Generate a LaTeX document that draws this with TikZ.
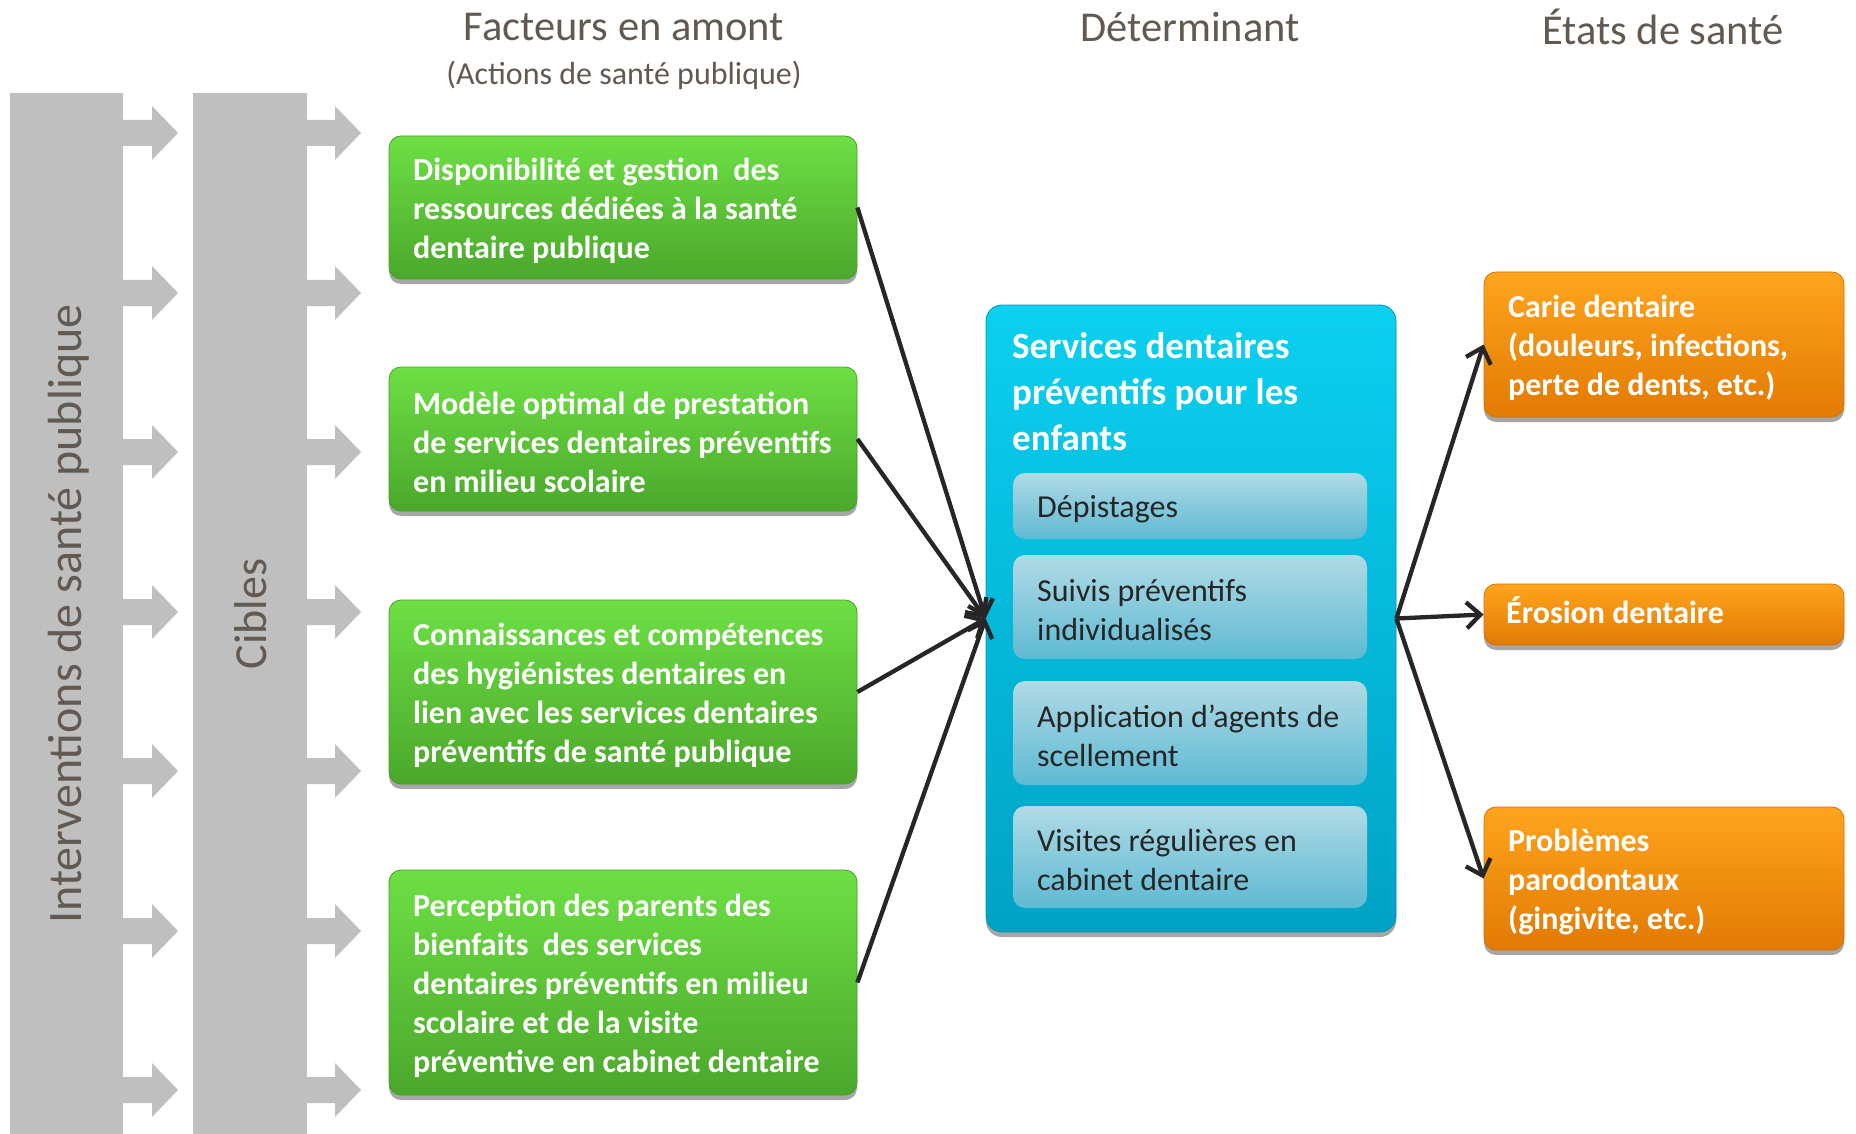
\documentclass[tikz,border=0pt]{standalone}
\usepackage{fontspec}
\setmainfont{Carlito}
\usetikzlibrary{arrows.meta,shadows}
\definecolor{barg}{HTML}{BFBFBF}
\definecolor{hdr}{HTML}{625A52}
\definecolor{gtop}{HTML}{6DE044}
\definecolor{gbot}{HTML}{4BA72B}
\definecolor{gline}{HTML}{46A028}
\definecolor{btop}{HTML}{0BD0F0}
\definecolor{bbot}{HTML}{00A2C4}
\definecolor{bline}{HTML}{0096B8}
\definecolor{stop}{HTML}{B0DAE5}
\definecolor{sbot}{HTML}{5EBAD3}
\definecolor{otop}{HTML}{FFA41C}
\definecolor{obot}{HTML}{E27A04}
\definecolor{oline}{HTML}{D97300}
\definecolor{conn}{HTML}{262626}
\definecolor{subtxt}{HTML}{262626}
\begin{document}
\begin{tikzpicture}[x=1pt,y=-1pt,
  boxshadow/.style={drop shadow={shadow xshift=0pt,shadow yshift=-5pt,opacity=0.35,fill=black}},
  gbox/.style={rectangle,rounded corners=12pt,top color=gtop,bottom color=gbot,draw=gline,line width=0.8pt,minimum width=468pt,boxshadow},
  bbox/.style={rectangle,rounded corners=16pt,top color=btop,bottom color=bbot,draw=bline,line width=0.8pt,boxshadow},
  sbox/.style={rectangle,rounded corners=12pt,top color=stop,bottom color=sbot,draw=none,minimum width=354pt},
  obox/.style={rectangle,rounded corners=12pt,top color=otop,bottom color=obot,draw=oline,line width=0.8pt,minimum width=360pt,boxshadow},
  wtxt/.style={inner sep=0pt,anchor=west,align=left,yshift=-3pt,text=white,font=\fontsize{32}{39}\selectfont\bfseries},
  ttxt/.style={inner sep=0pt,anchor=west,align=left,yshift=-1pt,text=white,font=\fontsize{37}{46}\selectfont\bfseries},
  stxt/.style={inner sep=0pt,anchor=west,align=left,yshift=-3pt,text=subtxt,font=\fontsize{32}{39}\selectfont},
  hdrtxt/.style={inner sep=0pt,text=hdr,font=\fontsize{42.5}{50}\selectfont},
  subhdr/.style={inner sep=0pt,text=hdr,font=\fontsize{32}{38}\selectfont},
  rottxt/.style={inner sep=0pt,text=hdr,rotate=90},
  link/.style={draw=conn,line width=4.3pt,-{Straight Barb[length=14pt,width=26pt,line width=4.3pt]}}
]
\useasboundingbox (0,0) rectangle (1856,1134);
\fill[white] (0,0) rectangle (1856,1134);

% gray bars and arrows
\fill[barg] (10,93.5) rectangle (123,1134);
\fill[barg] (193,93.5) rectangle (307,1134);
\foreach \y in {133,293,452,612,771,931,1090}{
  \fill[barg] (123,\y-13) -- (152,\y-13) -- (152,\y-27) -- (178,\y) -- (152,\y+27) -- (152,\y+13) -- (123,\y+13) -- cycle;
  \fill[barg] (307,\y-13) -- (335,\y-13) -- (335,\y-27) -- (361,\y) -- (335,\y+27) -- (335,\y+13) -- (307,\y+13) -- cycle;
}
\node[rottxt,font=\fontsize{48}{56}\selectfont] (interv) at (69,614) {Interventions de santé publique};
\node[rottxt,font=\fontsize{46}{55}\selectfont] (cibles) at (251,614) {Cibles};

% headers
\node[hdrtxt] (h1) at (624,27) {Facteurs en amont};
\node[subhdr] (h1b) at (624,75) {(Actions de santé publique)};
\node[hdrtxt] (h2) at (1190,27) {Déterminant};
\node[hdrtxt] (h3) at (1663,27) {États de santé};

% green boxes
\node[gbox,minimum height=143pt] (g1) at (623,207.5) {};
\node[wtxt] (g1t) at (413,207.5) {Disponibilité et gestion\ \ des\\ressources dédiées à la santé\\dentaire publique};
\node[gbox,minimum height=144pt] (g2) at (623,439) {};
\node[wtxt] (g2t) at (413,439) {Modèle optimal de prestation\\de services dentaires préventifs\\en milieu scolaire};
\node[gbox,minimum height=184pt] (g3) at (623,692) {};
\node[wtxt] (g3t) at (413,692) {Connaissances et compétences\\des hygiénistes dentaires en\\lien avec les services dentaires\\préventifs de santé publique};
\node[gbox,minimum height=225pt] (g4) at (623,982.5) {};
\node[wtxt] (g4t) at (413,982.5) {Perception des parents des\\bienfaits\ \ des services\\dentaires préventifs en milieu\\scolaire et de la visite\\préventive en cabinet dentaire};

% blue box
\node[bbox,minimum width=410pt,minimum height=627pt] (blue) at (1191,618.5) {};
\node[ttxt] (bt) at (1012,391) {Services dentaires\\préventifs pour les\\enfants};
\node[sbox,minimum height=66pt] (s1) at (1190,506) {};
\node[stxt] (s1t) at (1037,506) {Dépistages};
\node[sbox,minimum height=104pt] (s2) at (1190,607) {};
\node[stxt] (s2t) at (1037,607) {Suivis préventifs\\individualisés};
\node[sbox,minimum height=104pt] (s3) at (1190,733) {};
\node[stxt] (s3t) at (1037,733) {Application d’agents de\\scellement};
\node[sbox,minimum height=102pt] (s4) at (1190,857) {};
\node[stxt] (s4t) at (1037,857) {Visites régulières en\\cabinet dentaire};

% orange boxes
\node[obox,minimum height=145pt] (o1) at (1664,344.5) {};
\node[wtxt] (o1t) at (1508,344.5) {Carie dentaire\\(douleurs, infections,\\perte de dents, etc.)};
\node[obox,minimum height=61pt] (o2) at (1664,614.5) {};
\node[wtxt,yshift=7pt] (o2t) at (1506,614.5) {Érosion dentaire};
\node[obox,minimum height=143pt] (o3) at (1664,878.5) {};
\node[wtxt] (o3t) at (1508,878.5) {Problèmes\\parodontaux\\(gingivite, etc.)};

% connectors
\draw[link] (g1.east) -- (blue.west);
\draw[link] (g2.east) -- (blue.west);
\draw[link] (g3.east) -- (blue.west);
\draw[link] (g4.east) -- (blue.west);
\draw[link] (blue.east) -- (o1.west);
\draw[link] (blue.east) -- (o2.west);
\draw[link] (blue.east) -- (o3.west);
\end{tikzpicture}
\end{document}
